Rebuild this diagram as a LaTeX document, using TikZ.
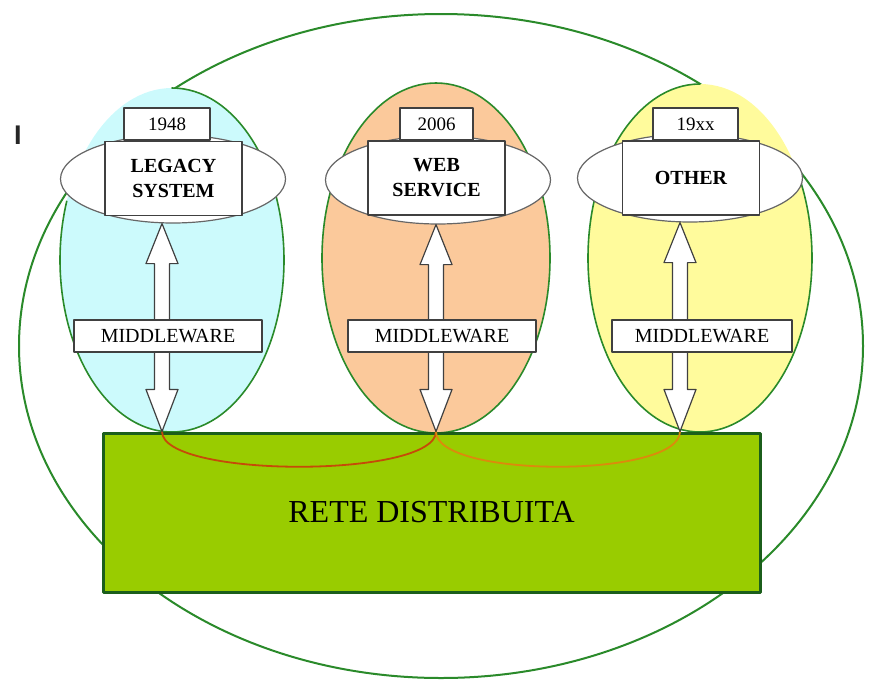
\documentclass[tikz,border=0pt]{standalone}
\usepackage{fontspec}
\setmainfont{Liberation Serif}
\newfontfamily\cursorfont{Liberation Sans}
\usetikzlibrary{calc}
\usetikzlibrary{shapes.geometric}

\definecolor{ringgreen}{HTML}{2A8A2A}
\definecolor{cyanfill}{HTML}{CCFAFC}
\definecolor{orangefill}{HTML}{FBC99B}
\definecolor{yellowfill}{HTML}{FFFB9C}
\definecolor{retefill}{HTML}{99CC00}
\definecolor{reteborder}{HTML}{1B5E1B}
\definecolor{linkred}{HTML}{C64A08}
\definecolor{linkorange}{HTML}{DC8A0C}
\definecolor{edgegrey}{HTML}{404040}

% block arrow with two heads, from #1 (top tip) to #2 (bottom tip)
\newcommand{\mwarrow}[2]{%
  \draw[blockarrow] (#1) -- ($(#1)+(-16,40)$) -- ($(#1)+(-7.5,40)$)
    -- ($(#2)+(-7.5,-42)$) -- ($(#2)+(-16,-42)$) -- (#2)
    -- ($(#2)+(16,-42)$) -- ($(#2)+(7.5,-42)$)
    -- ($(#1)+(7.5,40)$) -- ($(#1)+(16,40)$) -- cycle;}

\begin{document}
\begin{tikzpicture}[x=1pt, y=-1pt, line cap = round, line join = round]
\tikzstyle{sysellipse}=[ellipse, draw=edgegrey!80, fill=white, line width=1.2pt, minimum width=225pt, minimum height=88pt, inner sep=0pt]
\tikzstyle{sysbox}=[rectangle, draw=edgegrey, fill=white, line width=1.3pt, minimum width=137pt, minimum height=74pt, inner sep=0pt, align=center, font=\fontsize{20}{25}\selectfont\bfseries]
\tikzstyle{yearbox}=[rectangle, draw=edgegrey, fill=white, line width=1.3pt, minimum height=32pt, inner sep=0pt, font=\fontsize{19}{22}\selectfont]
\tikzstyle{mwbox}=[rectangle, draw=edgegrey, fill=white, line width=1.3pt, minimum width=188pt, minimum height=32pt, inner sep=0pt, font=\fontsize{20}{24}\selectfont]
\tikzstyle{retebox}=[rectangle, draw=reteborder, fill=retefill, line width=3pt, minimum width=657pt, minimum height=159pt, font=\fontsize{32}{36}\selectfont]
\tikzstyle{blockarrow}=[draw=edgegrey, fill=white, line width=1.2pt]
\useasboundingbox (0,0) rectangle (870,689);

% outer ring
\draw[ringgreen, line width=2pt] (441,346) ellipse [x radius=422, y radius=332];
\node[font=\fontsize{27}{30}\cursorfont\bfseries, text=black!85] (cursor) at (18,135) {I};

% coloured areas
\fill[cyanfill] (172,260) ellipse [x radius=112, y radius=172];
\draw[ringgreen, line width=1.6pt] (172,88) arc [start angle=-90, end angle=200, x radius=112, y radius=172];
\fill[orangefill] (436,258) ellipse [x radius=114, y radius=175];
\draw[ringgreen, line width=1.6pt] (436,258) ellipse [x radius=114, y radius=175];
\fill[yellowfill] (700,258) ellipse [x radius=112, y radius=174];
\draw[ringgreen, line width=1.6pt] (700,84) arc [start angle=270, end angle=-28, x radius=112, y radius=174];

% network
\node[retebox] (rete) at (431.5,512.5) {RETE DISTRIBUITA};

% systems
\node[sysellipse] (legacy) at (173,179) {};
\node[sysellipse] (web) at (438,180) {};
\node[sysellipse] (other) at (690,178) {};
\node[yearbox, minimum width=86pt] (legyear) at (167,124) {1948};
\node[yearbox, minimum width=73pt] (webyear) at (436.5,124) {2006};
\node[yearbox, minimum width=85pt] (othyear) at (695.5,124) {19xx};
\node[sysbox] (legbox) at (173.5,178.5) {LEGACY\\SYSTEM};
\node[sysbox] (webbox) at (436.5,178) {WEB\\SERVICE};
\node[sysbox] (othbox) at (691,178) {OTHER};

\coordinate (legtop) at ($(legacy.south)+(-11,0)$);
\coordinate (webtop) at ($(web.south)+(-2,0)$);
\coordinate (othtop) at ($(other.south)+(-10,0)$);
\coordinate (legbot) at (legtop |- rete.north);
\coordinate (webbot) at (webtop |- rete.north);
\coordinate (othbot) at (othtop |- rete.north);

\draw[linkred, line width=1.8pt] (legbot) .. controls ($(legbot)+(0,47)$) and ($(webbot)+(0,47)$) .. (webbot);
\draw[linkorange, line width=1.8pt] (webbot) .. controls ($(webbot)+(0,47)$) and ($(othbot)+(0,47)$) .. (othbot);

\mwarrow{legtop}{legbot}
\mwarrow{webtop}{webbot}
\mwarrow{othtop}{othbot}

\node[mwbox] (legmw) at (168,336) {MIDDLEWARE};
\node[mwbox] (webmw) at (442,336) {MIDDLEWARE};
\node[mwbox, minimum width=180pt] (othmw) at (702,336) {MIDDLEWARE};
\end{tikzpicture}
\end{document}
